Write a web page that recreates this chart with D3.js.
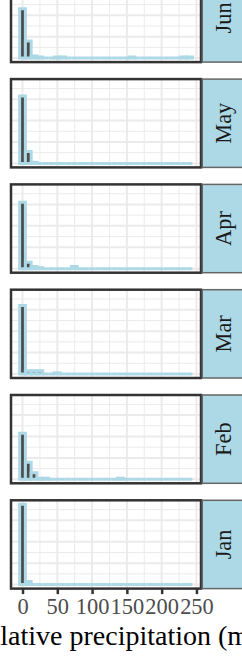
<!DOCTYPE html>
<html>
<head>
<meta charset="utf-8">
<script src="https://cdn.jsdelivr.net/npm/d3@7"></script>
<style>
  body { margin: 0; background: #fff; }
  svg { display: block; }
</style>
</head>
<body>
<div id="chart"></div>
<script>
// facet order, top to bottom (only these six are in view)
const months = ["Jun", "May", "Apr", "Mar", "Feb", "Jan"];

// histogram counts per bin (30 bins from 0 to 240 mm)
const junCounts = [46, 16, 2, 1, 0, 0, 1, 1, 0, 0, 0, 0, 0, 0, 0, 0, 0, 0, 0, 1, 0, 0, 0, 0, 0, 0, 0, 0, 1, 1];
const mayCounts = [63, 11, 1, 0, 0, 0, 0, 0, 0, 0, 0, 0, 0, 0, 0, 0, 0, 0, 0, 0, 0, 0, 0, 0, 0, 0, 0, 0, 0, 0];
const aprCounts = [62, 6, 2, 1, 0, 0, 0, 0, 0, 2, 0, 0, 0, 0, 0, 0, 0, 0, 0, 0, 0, 0, 0, 0, 0, 0, 0, 0, 0, 0];
const marCounts = [64, 3, 3, 3, 0, 0, 1, 0, 0, 0, 0, 0, 0, 0, 0, 0, 0, 0, 0, 0, 0, 0, 0, 0, 0, 0, 0, 0, 0, 0];
const febCounts = [43, 16, 6, 1, 1, 0, 0, 0, 0, 0, 0, 0, 0, 0, 0, 0, 0, 1, 0, 0, 0, 0, 0, 0, 0, 0, 0, 0, 0, 0];
const janCounts = [75, 3, 0, 0, 0, 0, 0, 0, 0, 0, 0, 0, 0, 0, 0, 0, 0, 0, 0, 0, 0, 0, 0, 0, 0, 0, 0, 0, 0, 0];

const xMajor = [0, 50, 100, 150, 200, 250];
const xMinor = [25, 75, 125, 175, 225];
const yMajor = [0, 20, 40, 60];
const yMinor = [10, 30, 50, 70];
const xMaxData = 240;
const nBins = 30;

const countsByMonth = {
    Jun: junCounts, May: mayCounts, Apr: aprCounts,
    Mar: marCounts, Feb: febCounts, Jan: janCounts
};

const W = 242, H = 658;
const panelLeft = 11, panelRight = 201;
const panelH = 88.3, pitch = 105.3, lastBottom = 588.6;
const stripW = 41;

const binWidth = xMaxData / (nBins - 1);

// ggplot style 5% expansion
const expand = (lo, hi) => {
    const d = (hi - lo) * 0.05;
    return [lo - d, hi + d];
};

const x = d3.scaleLinear()
    .domain(expand(-binWidth / 2, xMaxData + binWidth / 2))
    .range([panelLeft, panelRight]);

const maxCount = d3.max(months, m => d3.max(countsByMonth[m]));

const svg = d3.select("#chart")
    .append("svg")
    .attr("width", W)
    .attr("height", H);

months.forEach((m, i) => {
    const bottom = lastBottom - (months.length - 1 - i) * pitch;
    const top = bottom - panelH;

    const y = d3.scaleLinear()
        .domain(expand(0, maxCount))
        .range([bottom, top]);

    const g = svg.append("g").attr("class", "panel");

    g.append("rect")
        .attr("x", panelLeft).attr("y", top)
        .attr("width", panelRight - panelLeft).attr("height", panelH)
        .attr("fill", "#fff");

    // minor grid
    g.selectAll(".ygm").data(yMinor).join("line")
        .attr("x1", panelLeft).attr("x2", panelRight)
        .attr("y1", d => y(d)).attr("y2", d => y(d))
        .attr("stroke", "#EBEBEB").attr("stroke-width", 1);
    g.selectAll(".xgm").data(xMinor).join("line")
        .attr("y1", top).attr("y2", bottom)
        .attr("x1", d => x(d)).attr("x2", d => x(d))
        .attr("stroke", "#EBEBEB").attr("stroke-width", 1);
    // major grid
    g.selectAll(".ygM").data(yMajor).join("line")
        .attr("x1", panelLeft).attr("x2", panelRight)
        .attr("y1", d => y(d)).attr("y2", d => y(d))
        .attr("stroke", "#EBEBEB").attr("stroke-width", 2);
    g.selectAll(".xgM").data(xMajor).join("line")
        .attr("y1", top).attr("y2", bottom)
        .attr("x1", d => x(d)).attr("x2", d => x(d))
        .attr("stroke", "#EBEBEB").attr("stroke-width", 2);

    // histogram bars: dark fill, thick light blue outline (zero bars too)
    const bins = countsByMonth[m].map((c, k) => ({
        x0: k * binWidth - binWidth / 2,
        x1: k * binWidth + binWidth / 2,
        count: c
    }));
    g.selectAll(".bar").data(bins).join("path")
        .attr("class", "bar")
        .attr("d", d => {
            const a = x(d.x0), b = x(d.x1), y0 = y(0), y1 = y(d.count);
            return `M${a},${y0}H${b}V${y1}H${a}Z`;
        })
        .attr("fill", "#4D4D4D")
        .attr("stroke", "#ADD8E6")
        .attr("stroke-width", 3)
        .attr("stroke-linejoin", "miter");

    // panel border
    g.append("rect")
        .attr("x", panelLeft).attr("y", top)
        .attr("width", panelRight - panelLeft).attr("height", panelH)
        .attr("fill", "none")
        .attr("stroke", "#333333")
        .attr("stroke-width", 2.5);

    // strip on the right
    g.append("rect")
        .attr("x", panelRight + 1.25).attr("y", top)
        .attr("width", stripW).attr("height", panelH)
        .attr("fill", "#ADD8E6")
        .attr("stroke", "#666")
        .attr("stroke-width", 1.5);
    const cx = panelRight + 1.25 + stripW / 2, cy = (top + bottom) / 2;
    g.append("text")
        .attr("transform", `translate(${cx},${cy}) rotate(-90)`)
        .attr("text-anchor", "middle")
        .attr("dy", "0.35em")
        .style("font-family", "'Liberation Serif', 'Times New Roman', serif")
        .style("font-size", "22.4px")
        .attr("fill", "#1A1A1A")
        .text(m);
});

// x axis under the last panel
const axisG = svg.append("g")
    .attr("transform", `translate(0,${lastBottom})`)
    .call(d3.axisBottom(x).tickValues(xMajor).tickSize(5.5).tickPadding(4));
axisG.select(".domain").remove();
axisG.selectAll(".tick line").attr("stroke", "#333333").attr("stroke-width", 2.5);
axisG.selectAll(".tick text")
    .style("font-family", "'Liberation Serif', 'Times New Roman', serif")
    .style("font-size", "22.4px")
    .attr("fill", "#4D4D4D");

svg.append("text")
    .attr("x", (panelLeft + panelRight) / 2)
    .attr("y", 645)
    .attr("text-anchor", "middle")
    .style("font-family", "'Liberation Serif', 'Times New Roman', serif")
    .style("font-size", "28px")
    .attr("fill", "#000")
    .text("Cumulative precipitation (mm)");
</script>
</body>
</html>
